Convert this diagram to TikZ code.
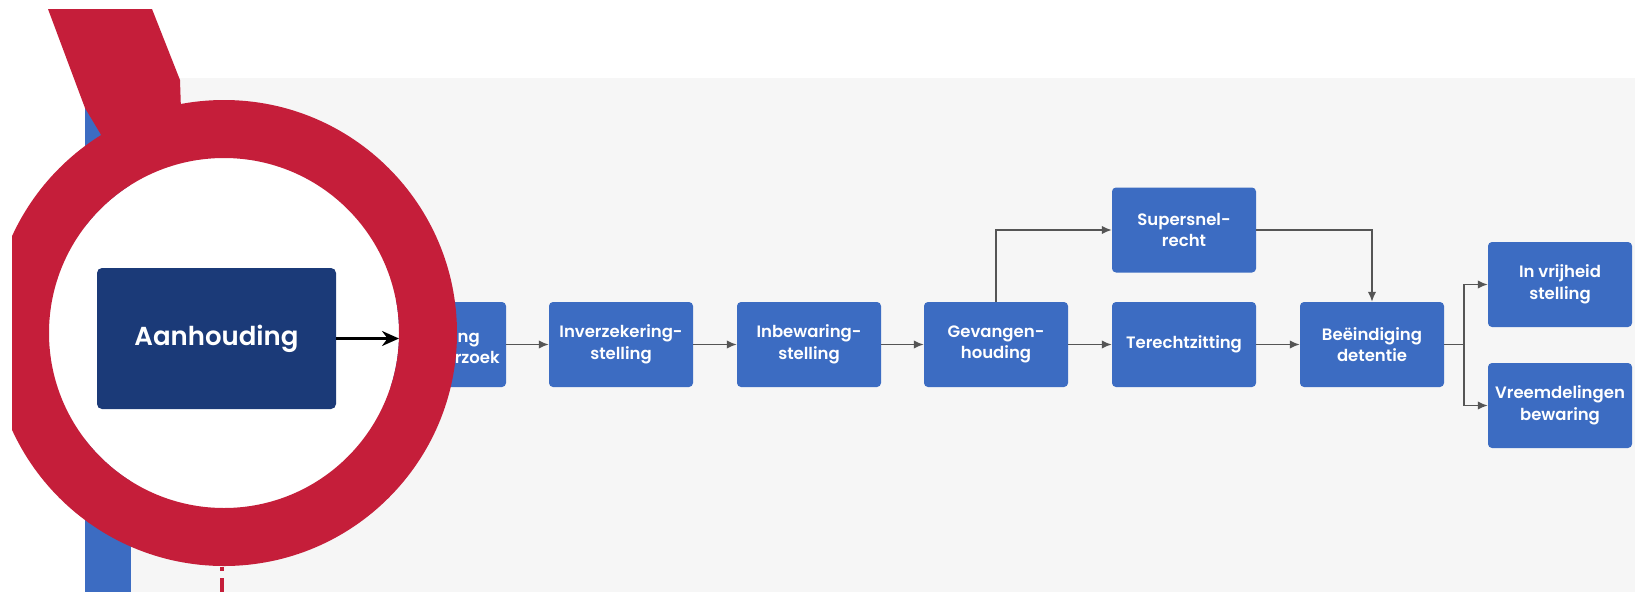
\documentclass[tikz,border=0pt]{standalone}
\usepackage{fontspec}
\setmainfont{Poppins}[BoldFont={Poppins SemiBold}]
\usetikzlibrary{arrows.meta}
\definecolor{boxblue}{RGB}{60,108,194}
\definecolor{navy}{RGB}{27,58,120}
\definecolor{lensred}{RGB}{197,30,58}
\definecolor{arrgrey}{RGB}{85,85,85}
\definecolor{bggrey}{RGB}{246,246,246}
\tikzset{
  stepbox/.style={fill=boxblue, rounded corners=4pt, minimum width=144pt, minimum height=85pt,
    inner sep=0pt, text=white, font=\fontsize{16.5}{21.5}\selectfont\bfseries, align=center},
  boxtext/.style={inner sep=0pt, text=white, font=\fontsize{16.5}{21.5}\selectfont\bfseries, anchor=base east},
  flow/.style={draw=arrgrey, line width=1.6pt, -{Latex[length=10pt,width=8.5pt]}},
  flowline/.style={draw=arrgrey, line width=1.6pt},
}
\begin{document}
\begin{tikzpicture}[x=1pt,y=-1pt]
\useasboundingbox (0,0) rectangle (1635,592);
\fill[white] (0,0) rectangle (1635,592);
\fill[bggrey] (131,78) rectangle (1635,592);
% blue bar behind the lens
\fill[boxblue] (85,108) rectangle (131,592);

% flow boxes
\node[stepbox] (onderzoek) at (434,344.5) {};
\node[boxtext] (ng) at (480,342) {ng};
\node[boxtext] (rzoek) at (500,363) {rzoek};
\node[stepbox] (inverz) at (621,344.5) {Inverzekering-\\stelling};
\node[stepbox] (inbew) at (809,344.5) {Inbewaring-\\stelling};
\node[stepbox] (gevang) at (996,344.5) {Gevangen-\\houding};
\node[stepbox] (terecht) at (1184,344.5) {Terechtzitting};
\node[stepbox] (super) at (1184,230) {Supersnel-\\recht};
\node[stepbox] (beeind) at (1372,344.5) {Beëindiging\\detentie};
\node[stepbox] (vrij) at (1560,284.5) {In vrijheid\\stelling};
\node[stepbox] (vreemd) at (1560,405.5) {Vreemdelingen\\bewaring};

\draw[flow] (onderzoek) -- (inverz);
\draw[flow] (inverz) -- (inbew);
\draw[flow] (inbew) -- (gevang);
\draw[flow] (gevang) -- (terecht);
\draw[flow] (terecht) -- (beeind);
\draw[flow] (gevang.north) |- (super.west);
\draw[flow] (super.east) -| (beeind.north);
\coordinate (split) at (1464,344.5);
\draw[flowline] (beeind.east) -- (split);
\draw[flow] (split) |- (vrij.west);
\draw[flow] (split) |- (vreemd.west);

% magnifying lens
\fill[white] (224,333) circle[radius=175];
\begin{scope}
  \clip (12,0) rectangle (1635,592);
  \fill[lensred, even odd rule] (224,333) circle[radius=233] (224,333) circle[radius=175];
\end{scope}
\fill[lensred] (48,9) -- (152,9) -- (180,80) -- (182,140) -- (120,170) -- (100,133) -- (85,108) -- cycle;

\node[fill=navy, rounded corners=5pt, minimum width=239pt, minimum height=141pt, inner sep=0pt,
  text=white, font=\fontsize{26}{30}\selectfont\bfseries] (aanh) at (216.5,338.5) {Aanhouding};
\coordinate (lensedge) at (399,338.5);
\draw[black, line width=2.5pt, -{Stealth[length=17pt,width=15pt]}] (aanh.east) -- (lensedge);

\fill[lensred] (220,567) rectangle (224,571);
\fill[lensred] (220,578) rectangle (224,592);
\end{tikzpicture}
\end{document}
